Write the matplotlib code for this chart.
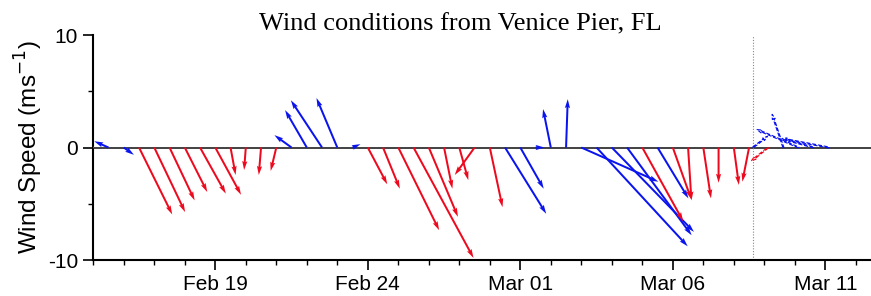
import matplotlib
matplotlib.use("Agg")
import matplotlib.pyplot as plt
import matplotlib.dates as mdates
import pandas as pd

# observed winds, every 12 h from 15 Feb 2015 (m/s)
obs_start = "2015-02-15 00:00"
u_obs = [0.0, -1.27, 0.9, 2.95, 2.74, 2.23, 2.0, 2.29, 2.29, 0.45, -0.15, -0.2, -0.5,
         -1.52, -1.93, -2.77, -1.85, 0.7, 1.73, 1.49, 3.63, 5.33, 2.59, 0.74, 0.8, -1.76,
         1.13, 3.66, 2.08, 0.8, -0.69, 0.15, 6.85, 8.1, 7.3, 5.74, 3.63, 2.74, 1.64, 0.3,
         0.68, 0.0, 0.45, -0.6]
v_obs = [-0.1, 0.56, -0.65, -5.95, -5.74, -4.7, -3.96, -4.1, -4.2, -2.44, -2.0, -2.44, -2.08,
         1.1, 3.33, 4.2, 4.4, 0.3, -3.27, -3.66, -7.35, -9.82, -6.16, -3.66, -2.9, -2.44,
         -5.3, -5.89, -3.66, 0.0, 3.42, 4.3, -3.04, -8.78, -7.5, -7.8, -6.55, -4.52, -4.6,
         -4.7, -4.52, -3.13, -3.33, -3.04]
obs_flag = list("rbbrrrrrrrrrrbbbbbrrrrrrrrrbbbbbbbbbrbrrrrrr")[:44]

# forecast winds, every 12 h from the forecast start
fc_start = "2015-03-08 15:00"
u_fc = [1.3, -1.5, -1.0, -3.7, -2.6, -4.2]
v_fc = [1.0, -1.2, 2.95, 1.6, 0.7, 0.8]
fc_flag = ["b", "r", "b", "b", "b", "b"]

tick_dates = ["2015-02-19", "2015-02-24", "2015-03-01", "2015-03-06", "2015-03-11"]
x_range = ["2015-02-15 00:00", "2015-03-12 12:00"]

colors = {"r": "#ee0a1e", "b": "#0a14ee"}

t_obs = mdates.date2num(pd.date_range(obs_start, periods=len(u_obs), freq="12h"))
t_fc = mdates.date2num(pd.date_range(fc_start, periods=len(u_fc), freq="12h"))

fig = plt.figure(figsize=(8.71, 2.96), dpi=100)
ax = fig.add_axes([0.1071, 0.1216, 0.893, 0.760])

ax.axhline(0, color="#333333", lw=1.3, zorder=1)
ax.axvline(mdates.date2num(pd.Timestamp(fc_start)), color="#888888", lw=0.8,
           ls=(0, (1, 1.5)), zorder=1)

ax.quiver(t_obs, [0] * len(t_obs), u_obs, v_obs, color=[colors[f] for f in obs_flag],
          angles="uv", scale_units="y", scale=1, units="dots", width=2.0,
          headwidth=2.6, headlength=4.5, headaxislength=4.0, zorder=3)

ax.quiver(t_fc, [0] * len(t_fc), u_fc, v_fc, facecolor="none",
          edgecolor=[colors[f] for f in fc_flag], linewidth=0.8, linestyle="--",
          angles="uv", scale_units="y", scale=1, units="dots", width=1.0,
          headwidth=3, headlength=5, headaxislength=4.5, zorder=3)

ax.set_ylim(-10, 10)
ax.set_xlim(mdates.date2num(pd.Timestamp(x_range[0])), mdates.date2num(pd.Timestamp(x_range[1])))
ax.set_yticks([-10, 0, 10])
ax.set_yticklabels(["-10", "0", "10"])
ax.set_yticks([-5, 5], minor=True)
ax.set_xticks(mdates.date2num(pd.to_datetime(tick_dates)))
ax.xaxis.set_major_formatter(mdates.DateFormatter("%b %d"))
ax.xaxis.set_minor_locator(mdates.DayLocator())

for s in ["top", "right"]:
    ax.spines[s].set_visible(False)
for s in ["left", "bottom"]:
    ax.spines[s].set_linewidth(1.5)

ax.tick_params(which="major", length=7, width=1.2, labelsize=15, pad=4)
ax.tick_params(which="minor", length=3.5, width=1.0)
for lab in ax.get_xticklabels() + ax.get_yticklabels():
    lab.set_family(["Liberation Sans", "DejaVu Sans"])

ax.set_ylabel("Wind Speed (ms$^{-1}$)", fontsize=17.5, family=["Liberation Sans", "DejaVu Sans"],
              labelpad=2)
fig.text(0.529, 1 - 30 / 296, "Wind conditions from Venice Pier, FL", ha="center",
         va="baseline", fontsize=19, family=["Liberation Serif", "DejaVu Serif"])

fig.savefig("out.png", dpi=100)
